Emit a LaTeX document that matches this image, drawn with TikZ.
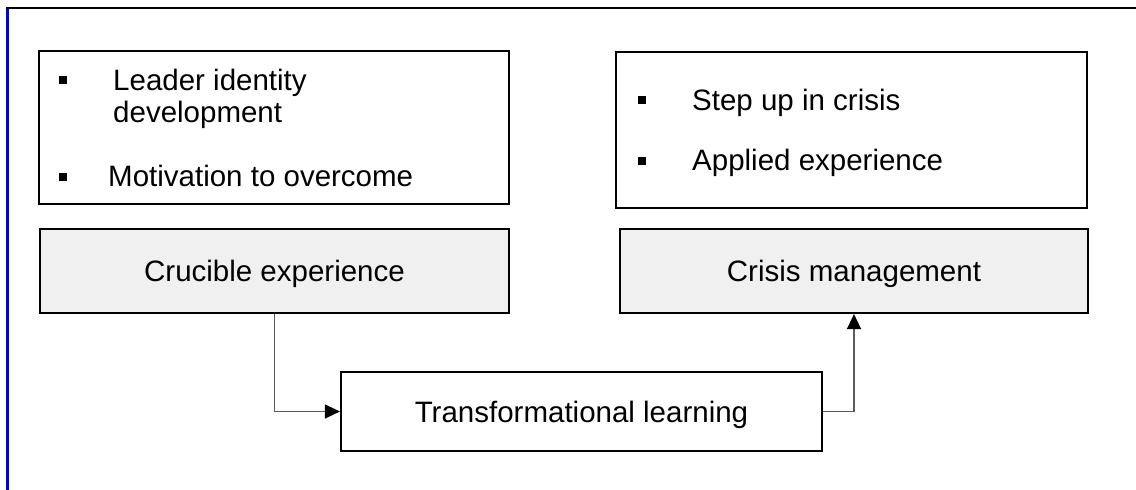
\documentclass[tikz,border=0pt]{standalone}
\usepackage{fontspec}
\setmainfont{Liberation Sans}
\usetikzlibrary{arrows.meta}
\definecolor{panelgray}{HTML}{F0F0F0}
\definecolor{frameblue}{RGB}{0,0,230}
\definecolor{linkgray}{HTML}{5A5A5A}
\begin{document}
\begin{tikzpicture}[x=1pt,y=-1pt,
  box/.style={draw=black,line width=2.2pt,inner sep=0pt,rectangle},
  label/.style={font=\fontsize{29.5}{31}\selectfont},
  stage/.style={box,fill=panelgray,label,text depth=0pt},
  item/.style={anchor=base west,inner sep=0pt,label},
  bulletsq/.style={fill=black,inner sep=0pt,minimum size=8pt,rectangle},
  conn/.style={draw=linkgray,line width=1.5pt,-{Triangle[length=15pt,width=14pt,color=black]}}]
\useasboundingbox (0,0) rectangle (1136,490);

% page frame: blue left rule, black top rule
\draw[frameblue,line width=2.8pt] (7.3,7) -- (7.3,490);
\draw[black,line width=2.2pt] (6,7.8) -- (1136,7.8);

% left column
\node[box,minimum width=470pt,minimum height=153pt] (drivers) at (274,127.5) {};
\node[stage,minimum width=469pt,minimum height=84pt] (crucible) at (274.5,271) {Crucible experience};
\node[bulletsq] (b1) at (63,80) {};
\node[item] (t1a) at (113,90.7) {Leader identity};
\node[item] (t1b) at (113,122.3) {development};
\node[bulletsq] (b2) at (63,176.7) {};
\node[item] (t2) at (108,186.7) {Motivation to overcome};

% right column
\node[box,minimum width=471pt,minimum height=156pt] (outcomes) at (851.5,130) {};
\node[stage,minimum width=468pt,minimum height=84pt] (crisis) at (854,271) {Crisis management};
\node[bulletsq] (b3) at (642,100) {};
\node[item] (t3) at (692,110.7) {Step up in crisis};
\node[bulletsq] (b4) at (642,160.5) {};
\node[item] (t4) at (692,170.7) {Applied experience};

% bridge between the two
\node[box,label,text depth=0pt,minimum width=481pt,minimum height=79pt] (learning) at (581.5,411.5) {Transformational learning};

\draw[conn] (crucible.south) |- (learning.west);
\draw[conn] (learning.east) -| (crisis.south);
\end{tikzpicture}
\end{document}
